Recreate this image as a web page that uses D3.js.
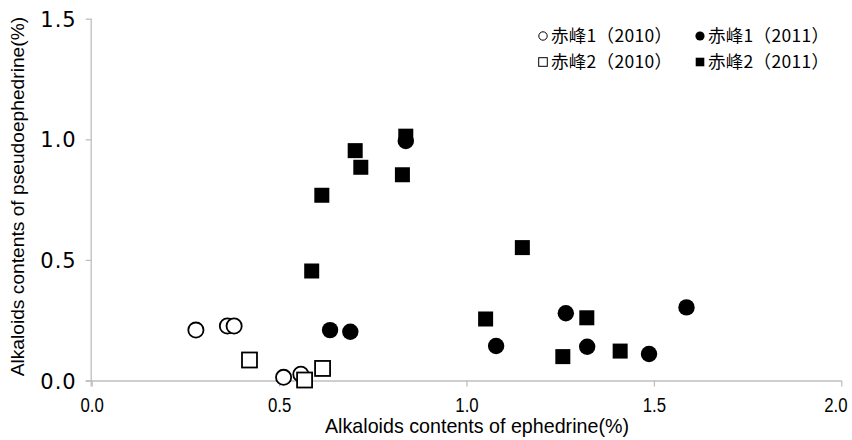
<!DOCTYPE html>
<html>
<head>
<meta charset="utf-8">
<script src="https://cdn.jsdelivr.net/npm/d3@7"></script>
<style>
  html, body { margin: 0; padding: 0; background: #fff; }
  svg { display: block; }
</style>
</head>
<body>
<svg id="chart" width="852" height="440"></svg>
<script>
// ---- data ----
const seriesNames = ["赤峰1（2010）", "赤峰1（2011）", "赤峰2（2010）", "赤峰2（2011）"];

const cf1_2010_x = [0.278, 0.362, 0.380, 0.512, 0.558];
const cf1_2010_y = [0.209, 0.226, 0.226, 0.013, 0.026];

const cf2_2010_x = [0.421, 0.568, 0.616];
const cf2_2010_y = [0.085, 0.002, 0.050];

const cf1_2011_x = [0.636, 0.690, 0.838, 1.079, 1.265, 1.322, 1.487, 1.587];
const cf1_2011_y = [0.209, 0.202, 0.993, 0.143, 0.279, 0.140, 0.110, 0.303];

const cf2_2011_x = [0.587, 0.614, 0.703, 0.718, 0.829, 0.838, 1.051, 1.149, 1.257, 1.321, 1.410];
const cf2_2011_y = [0.454, 0.768, 0.953, 0.884, 0.853, 1.013, 0.255, 0.551, 0.099, 0.260, 0.122];

const xTicks = [0, 0.5, 1.0, 1.5, 2.0];
const yTicks = [0, 0.5, 1.0, 1.5];

const xTitle = "Alkaloids contents of ephedrine(%)";
const yTitle = "Alkaloids contents of pseudoephedrine(%)";

// ---- layout ----
const svg = d3.select("#chart");
const axisColor = "#bfbfbf";
const latin = "'Liberation Sans', Arial, sans-serif";
const wide = "'DejaVu Sans', 'Liberation Sans', sans-serif";
const cjk = "'Noto Sans CJK JP', 'Noto Sans CJK SC', sans-serif";

const x = d3.scaleLinear().domain([0, 2]).range([91.7, 841.3]);
const y = d3.scaleLinear().domain([0, 1.5]).range([380.5, 18.7]);

// axes
const xAxis = svg.append("g")
  .attr("transform", `translate(0,${y(0)})`)
  .call(d3.axisBottom(x).tickValues(xTicks).tickFormat(d3.format(".1f")).tickSize(6).tickSizeOuter(0));
const yAxis = svg.append("g")
  .attr("transform", `translate(${x(0)},0)`)
  .call(d3.axisLeft(y).tickValues(yTicks).tickFormat(d3.format(".1f")).tickSize(6).tickSizeOuter(0));

[xAxis, yAxis].forEach(g => {
  g.select(".domain").attr("stroke", axisColor).attr("stroke-width", 1.3);
  g.selectAll(".tick line").attr("stroke", axisColor).attr("stroke-width", 1.3);
  g.selectAll(".tick text").attr("fill", "#000");
});
// condensed-looking x tick labels
xAxis.selectAll(".tick text")
  .attr("font-family", latin).attr("font-size", 21)
  .attr("y", 0).attr("x", 0).attr("dy", "0.35em")
  .attr("transform", d => `translate(${d === 2 ? -6 : 0},24) scale(0.8,1)`);
yAxis.selectAll(".tick text")
  .attr("font-family", wide).attr("font-size", 21)
  .attr("letter-spacing", 1)
  .attr("x", -15).attr("dy", "0.36em");
xAxis.select(".domain").attr("d", `M${x(0) - 6},0.5H${x(2)}`);
yAxis.select(".domain").attr("d", `M-0.5,${y(0) + 6}V${y(1.5)}`);

// titles
svg.append("text")
  .attr("x", 477).attr("y", 426).attr("dy", "0.35em")
  .attr("text-anchor", "middle")
  .attr("font-family", latin).attr("font-size", 21)
  .attr("textLength", 304).attr("lengthAdjust", "spacingAndGlyphs")
  .attr("fill", "#000")
  .text(xTitle);
svg.append("text")
  .attr("transform", `translate(24,${(y(0) + y(1.5)) / 2 - 3}) rotate(-90)`)
  .attr("text-anchor", "middle")
  .attr("font-family", latin).attr("font-size", 19.2)
  .attr("fill", "#000")
  .text(yTitle);

// markers
const zip = (xs, ys) => xs.map((v, i) => ({ x: v, y: ys[i] }));
const plot = svg.append("g");
const R = 7.6, S = 15;

function circles(data, filled) {
  plot.append("g").selectAll("circle").data(data).join("circle")
    .attr("cx", d => x(d.x)).attr("cy", d => y(d.y))
    .attr("r", filled ? R + 0.6 : R)
    .attr("fill", filled ? "#000" : "#fff")
    .attr("stroke", "#000").attr("stroke-width", filled ? 0 : 1.8);
}
function squares(data, filled) {
  plot.append("g").selectAll("rect").data(data).join("rect")
    .attr("x", d => x(d.x) - S / 2).attr("y", d => y(d.y) - S / 2)
    .attr("width", S).attr("height", S)
    .attr("fill", filled ? "#000" : "#fff")
    .attr("stroke", "#000").attr("stroke-width", filled ? 0 : 1.8);
}
circles(zip(cf1_2010_x, cf1_2010_y), false);
squares(zip(cf2_2010_x, cf2_2010_y), false);
squares(zip(cf2_2011_x, cf2_2011_y), true);
circles(zip(cf1_2011_x, cf1_2011_y), true);

// legend
const legendItems = [
  { name: seriesNames[0], shape: "circle", filled: false, col: 0, row: 0 },
  { name: seriesNames[1], shape: "circle", filled: true, col: 1, row: 0 },
  { name: seriesNames[2], shape: "square", filled: false, col: 0, row: 1 },
  { name: seriesNames[3], shape: "square", filled: true, col: 1, row: 1 }
];
const colX = [543, 700], rowY = [36, 62];
const lg = svg.append("g");
legendItems.forEach(it => {
  const cx = colX[it.col], cy = rowY[it.row];
  if (it.shape === "circle") {
    lg.append("circle").attr("cx", cx).attr("cy", cy).attr("r", it.filled ? 4.6 : 4.2)
      .attr("fill", it.filled ? "#000" : "#fff").attr("stroke", "#000").attr("stroke-width", it.filled ? 0 : 1);
  } else {
    lg.append("rect").attr("x", cx - 4.3).attr("y", cy - 4.3).attr("width", 8.6).attr("height", 8.6)
      .attr("fill", it.filled ? "#000" : "#fff").attr("stroke", "#000").attr("stroke-width", it.filled ? 0 : 1);
  }
  lg.append("text").attr("x", cx + 8).attr("y", cy).attr("dy", "0.36em")
    .attr("font-family", cjk).attr("font-size", 17.5).attr("fill", "#000")
    .attr("textLength", 121).attr("lengthAdjust", "spacing")
    .text(it.name);
});
</script>
</body>
</html>
